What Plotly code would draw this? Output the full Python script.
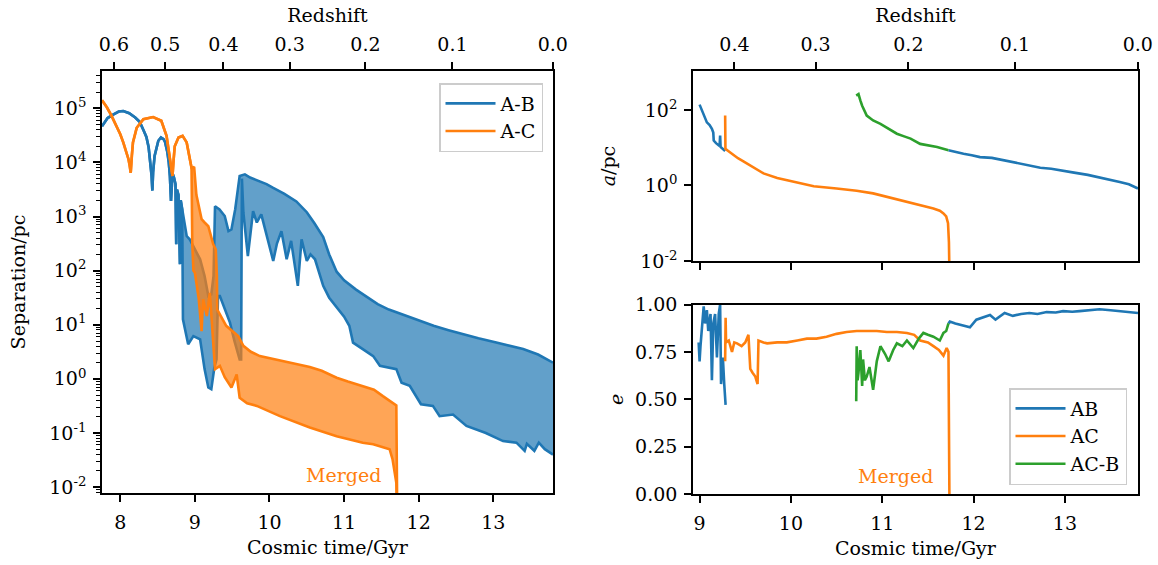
import numpy as np
import plotly.graph_objects as go

# ---------------- data (log10 of separation / a in pc; times in Gyr) ----------------
# A-B separation: single curve before the band starts
ab_early_t = [7.755, 7.83, 7.91, 7.98, 8.04, 8.12, 8.20, 8.26, 8.31, 8.35, 8.38, 8.40, 8.42, 8.43, 8.44, 8.46,
              8.49, 8.51, 8.545, 8.58, 8.60, 8.63, 8.65, 8.665, 8.68, 8.69, 8.70, 8.72, 8.74, 8.75, 8.76,
              8.78, 8.80, 8.81, 8.83]
ab_early_log = [4.67, 4.82, 4.89, 4.94, 4.95, 4.91, 4.83, 4.75, 4.60, 4.47, 4.28, 4.06, 3.75, 3.48, 3.82, 4.12,
                4.33, 4.40, 4.46, 4.43, 4.38, 4.20, 4.00, 3.75, 3.29, 3.60, 3.80, 3.72, 3.60, 2.49, 3.50,
                3.40, 2.12, 3.30, 3.13]
# A-B band: upper envelope
ab_up_t = [8.86, 8.89, 8.93, 9.00, 9.07, 9.13, 9.18, 9.22, 9.25, 9.27, 9.33, 9.40, 9.45, 9.49, 9.54, 9.60,
           9.67, 9.74, 9.85, 9.96, 10.05, 10.20, 10.36, 10.50, 10.60, 10.72, 10.80, 10.90, 11.00, 11.16,
           11.30, 11.45, 11.60, 11.80, 12.00, 12.20, 12.40, 12.60, 12.80, 13.04, 13.20, 13.40, 13.60, 13.80]
ab_up_log = [2.95, 2.64, 2.58, 2.40, 2.21, 1.90, 1.53, 1.56, 1.90, 3.19, 3.13, 3.01, 2.73, 2.76, 3.13, 3.75,
             3.78, 3.72, 3.66, 3.60, 3.53, 3.42, 3.28, 3.08, 2.88, 2.62, 2.30, 1.98, 1.82, 1.65,
             1.52, 1.38, 1.28, 1.18, 1.08, 0.98, 0.90, 0.82, 0.75, 0.67, 0.62, 0.55, 0.45, 0.30]
# A-B band: lower envelope
ab_lo_t = [8.84, 8.91, 8.98, 9.07, 9.13, 9.18, 9.22, 9.26, 9.29, 9.31, 9.335, 9.40, 9.47, 9.53, 9.60, 9.62,
           9.63, 9.65, 9.71, 9.78, 9.83, 9.89, 9.95, 10.05, 10.10, 10.16, 10.23, 10.29, 10.38, 10.43,
           10.50, 10.55, 10.61, 10.66, 10.72, 10.80, 10.90, 11.00, 11.07, 11.12, 11.25, 11.39, 11.48,
           11.60, 11.70, 11.77, 11.88, 12.03, 12.19, 12.28, 12.46, 12.64, 12.90, 13.13, 13.31, 13.42,
           13.45, 13.55, 13.61, 13.69, 13.80]
ab_lo_log = [1.10, 0.64, 0.79, 0.73, 0.18, -0.16, -0.19, 0.20, 0.36, 1.53, 1.53, 1.30, 1.04, 0.70, 0.36, 0.36,
             3.70, 3.07, 2.27, 3.10, 2.89, 3.04, 2.70, 2.18, 2.50, 2.73, 2.21, 2.55, 1.72, 2.58,
             2.18, 2.30, 2.21, 2.00, 1.72, 1.50, 1.32, 1.15, 0.98, 0.67, 0.55, 0.42, 0.24,
             0.20, 0.18, -0.07, -0.13, -0.47, -0.50, -0.69, -0.66, -0.87, -1.00, -1.15, -1.18, -1.33,
             -1.20, -1.33, -1.18, -1.30, -1.40]

# A-C separation
ac_early_t = [7.755, 7.82, 7.88, 7.95, 8.00, 8.04, 8.08, 8.11, 8.125, 8.14, 8.155, 8.17, 8.22, 8.31, 8.44,
              8.55, 8.62, 8.665, 8.69, 8.70, 8.715, 8.73, 8.78, 8.835, 8.89, 8.93, 8.955]
ac_early_log = [5.15, 5.02, 4.87, 4.67, 4.52, 4.37, 4.20, 4.06, 3.95, 3.81, 4.12, 4.37, 4.64, 4.80, 4.84,
                4.77, 4.49, 4.12, 3.90, 3.75, 4.05, 4.30, 4.46, 4.49, 4.37, 4.12, 3.90]
ac_up_t = [8.97, 8.99, 9.02, 9.04, 9.09, 9.13, 9.18, 9.245, 9.28, 9.295, 9.30, 9.42, 9.51, 9.58, 9.65, 9.75,
           9.87, 10.00, 10.18, 10.36, 10.54, 10.70, 10.90, 11.05, 11.25, 11.40, 11.52, 11.65, 11.70, 11.715]
ac_up_log = [3.90, 3.92, 3.40, 3.26, 2.95, 2.89, 2.82, 2.49, 2.39, 1.90, 1.28, 0.98, 0.88, 0.79, 0.61, 0.50,
             0.42, 0.38, 0.33, 0.27, 0.22, 0.15, 0.02, -0.05, -0.13, -0.20, -0.32, -0.44, -0.49, -3.0]
ac_lo_t = [8.965, 8.98, 9.00, 9.05, 9.09, 9.11, 9.16, 9.20, 9.27, 9.335, 9.40, 9.49, 9.56, 9.60, 9.70, 9.83,
           10.14, 10.54, 10.90, 11.25, 11.39, 11.52, 11.61, 11.65, 11.70, 11.715]
ac_lo_log = [2.50, 2.00, 1.96, 1.50, 0.88, 1.47, 1.16, 1.59, 0.18, 0.24, 0.03, -0.16, 0.08, -0.35, -0.45, -0.50,
             -0.69, -0.90, -1.06, -1.18, -1.21, -1.27, -1.30, -1.49, -1.92, -3.0]

# Semi-major axis a/pc (log10)
ab_a_t1 = [9.00, 9.02, 9.045, 9.06, 9.08, 9.11, 9.135, 9.15, 9.155, 9.18, 9.21, 9.22, 9.225, 9.23, 9.25, 9.28]
ab_a_log1 = [2.14, 2.02, 1.89, 1.80, 1.67, 1.60, 1.50, 1.40, 1.19, 1.12, 1.06, 1.08, 1.32, 1.02, 0.98, 0.91]
ab_a_t2 = [11.725, 11.80, 11.89, 11.98, 12.07, 12.20, 12.30, 12.435, 12.55, 12.73, 12.85, 12.98, 13.10, 13.25,
           13.38, 13.50, 13.60, 13.70, 13.80]
ab_a_log2 = [0.93, 0.88, 0.84, 0.80, 0.75, 0.73, 0.68, 0.62, 0.57, 0.47, 0.44, 0.38, 0.34, 0.28,
             0.21, 0.16, 0.09, 0.03, -0.08]
ac_a_t = [9.28, 9.283, 9.31, 9.37, 9.42, 9.48, 9.555, 9.60, 9.635, 9.70, 9.85, 10.0, 10.25, 10.50, 10.72, 10.90,
          11.05, 11.20, 11.34, 11.46, 11.56, 11.63, 11.67, 11.70, 11.72, 11.73, 11.735, 11.74]
ac_a_log = [1.85, 0.97, 0.92, 0.80, 0.72, 0.64, 0.53, 0.45, 0.40, 0.32, 0.20, 0.11, -0.02, -0.08, -0.14, -0.21,
            -0.30, -0.38, -0.47, -0.54, -0.61, -0.67, -0.74, -0.82, -1.00, -1.50, -1.97, -3.0]
acb_a_t = [10.715, 10.74, 10.76, 10.78, 10.83, 10.90, 10.98, 11.07, 11.16, 11.24, 11.31, 11.415, 11.50, 11.60, 11.725]
acb_a_log = [2.38, 2.42, 2.25, 2.11, 1.85, 1.72, 1.63, 1.50, 1.37, 1.30, 1.24, 1.10, 1.06, 1.02, 0.93]

# Eccentricity e
ab_e_t1 = [8.99, 9.00, 9.01, 9.03, 9.045, 9.06, 9.08, 9.095, 9.12, 9.135, 9.15, 9.17, 9.19, 9.21, 9.225,
           9.235, 9.255, 9.27, 9.285]
ab_e1 = [0.80, 0.70, 0.78, 0.88, 0.99, 0.90, 0.97, 0.86, 0.95, 0.60, 0.90, 0.95, 0.72, 0.95, 1.00,
         0.58, 0.72, 0.58, 0.47]
ab_e_t2 = [11.725, 11.74, 11.80, 11.89, 11.96, 12.03, 12.10, 12.18, 12.24, 12.34, 12.43, 12.52, 12.61, 12.70,
           12.80, 12.90, 12.98, 13.08, 13.16, 13.26, 13.38, 13.50, 13.60, 13.70, 13.80]
ab_e2 = [0.90, 0.91, 0.90, 0.89, 0.88, 0.92, 0.93, 0.945, 0.92, 0.955, 0.94, 0.95, 0.955, 0.95,
         0.96, 0.958, 0.965, 0.962, 0.965, 0.97, 0.975, 0.97, 0.965, 0.962, 0.955]
ac_e_t = [9.28, 9.285, 9.29, 9.32, 9.355, 9.38, 9.41, 9.46, 9.50, 9.535, 9.545, 9.555, 9.58, 9.61, 9.635, 9.645,
          9.70, 9.74, 9.85, 9.955, 10.07, 10.175, 10.28, 10.39, 10.50, 10.61, 10.72, 10.83, 10.94, 11.05,
          11.16, 11.27, 11.35, 11.415, 11.50, 11.56, 11.62, 11.67, 11.705, 11.725, 11.73, 11.735]
ac_e = [0.70, 0.93, 0.80, 0.81, 0.75, 0.80, 0.795, 0.78, 0.80, 0.84, 0.75, 0.66, 0.64, 0.62, 0.58, 0.81,
        0.80, 0.795, 0.80, 0.80, 0.81, 0.82, 0.82, 0.83, 0.845, 0.855, 0.86, 0.86, 0.86, 0.855,
        0.855, 0.85, 0.84, 0.81, 0.80, 0.78, 0.76, 0.73, 0.77, 0.75, 0.40, 0.0]
acb_e_t = [10.715, 10.72, 10.73, 10.74, 10.76, 10.78, 10.79, 10.81, 10.83, 10.86, 10.90, 10.94, 10.98, 11.03,
           11.07, 11.12, 11.16, 11.22, 11.27, 11.34, 11.40, 11.45, 11.50, 11.56, 11.63, 11.67, 11.70, 11.725]
acb_e = [0.49, 0.78, 0.60, 0.64, 0.76, 0.57, 0.71, 0.60, 0.62, 0.67, 0.55, 0.70, 0.78, 0.74,
         0.70, 0.76, 0.795, 0.78, 0.81, 0.77, 0.82, 0.85, 0.84, 0.83, 0.81, 0.85, 0.86, 0.90]

# Axis tick labels
time_ticks = [8, 9, 10, 11, 12, 13]
redshift_ticks = [0.6, 0.5, 0.4, 0.3, 0.2, 0.1, 0.0]
sep_tick_exps = [-2, -1, 0, 1, 2, 3, 4, 5]
a_tick_exps = [-2, 0, 2]
e_ticks = [0.0, 0.25, 0.5, 0.75, 1.0]


# ---------------- helpers ----------------
def age(z, H0=67.7, Om=0.31):
    """Cosmic time (Gyr) at redshift z, flat LCDM (used for the top axis scale)."""
    OL = 1.0 - Om
    tH = 977.8 / H0
    return 2 * tH / (3 * np.sqrt(OL)) * np.arcsinh(np.sqrt(OL / Om) * (1 + z) ** -1.5)


def p10(v):
    return [10.0 ** x for x in v]


FONT = "DejaVu Serif"
BLUE, ORANGE, GREEN = "#1f77b4", "#ff7f0e", "#2ca02c"
LW = 2.6
FS = 19

fig = go.Figure()

# ---- left panel ----
fig.add_trace(go.Scatter(x=ab_early_t + ab_lo_t, y=p10(ab_early_log + ab_lo_log), mode="lines",
                         line=dict(color=BLUE, width=LW), name="A-B", legend="legend",
                         xaxis="x", yaxis="y"))
fig.add_trace(go.Scatter(x=ab_early_t + ab_up_t, y=p10(ab_early_log + ab_up_log), mode="lines",
                         line=dict(color=BLUE, width=LW), fill="tonexty",
                         fillcolor="rgba(31,119,180,0.7)", showlegend=False, xaxis="x", yaxis="y"))
fig.add_trace(go.Scatter(x=ac_early_t + ac_lo_t, y=p10(ac_early_log + ac_lo_log), mode="lines",
                         line=dict(color=ORANGE, width=LW), name="A-C", legend="legend",
                         xaxis="x", yaxis="y"))
fig.add_trace(go.Scatter(x=ac_early_t + ac_up_t, y=p10(ac_early_log + ac_up_log), mode="lines",
                         line=dict(color=ORANGE, width=LW), fill="tonexty",
                         fillcolor="rgba(255,127,14,0.7)", showlegend=False, xaxis="x", yaxis="y"))
fig.add_trace(go.Scatter(x=[7.755, 13.8], y=[None, None], xaxis="x2", yaxis="y", showlegend=False,
                         hoverinfo="skip"))

# ---- right top: a/pc ----
fig.add_trace(go.Scatter(x=ab_a_t1 + [None] + ab_a_t2, y=p10(ab_a_log1) + [None] + p10(ab_a_log2),
                         mode="lines", line=dict(color=BLUE, width=LW), showlegend=False,
                         xaxis="x4", yaxis="y4"))
fig.add_trace(go.Scatter(x=ac_a_t, y=p10(ac_a_log), mode="lines", line=dict(color=ORANGE, width=LW),
                         showlegend=False, xaxis="x4", yaxis="y4"))
fig.add_trace(go.Scatter(x=acb_a_t, y=p10(acb_a_log), mode="lines", line=dict(color=GREEN, width=LW),
                         showlegend=False, xaxis="x4", yaxis="y4"))
fig.add_trace(go.Scatter(x=[8.928, 13.8], y=[None, None], xaxis="x5", yaxis="y4", showlegend=False,
                         hoverinfo="skip"))

# ---- right bottom: e ----
fig.add_trace(go.Scatter(x=ab_e_t1 + [None] + ab_e_t2, y=ab_e1 + [None] + ab_e2, mode="lines",
                         line=dict(color=BLUE, width=LW), name="AB", legend="legend2",
                         xaxis="x3", yaxis="y3"))
fig.add_trace(go.Scatter(x=ac_e_t, y=ac_e, mode="lines", line=dict(color=ORANGE, width=LW), name="AC",
                         legend="legend2", xaxis="x3", yaxis="y3"))
fig.add_trace(go.Scatter(x=acb_e_t, y=acb_e, mode="lines", line=dict(color=GREEN, width=LW), name="AC-B",
                         legend="legend2", xaxis="x3", yaxis="y3"))

W, H = 1158, 565
tickfont = dict(family=FONT, size=FS, color="black")
titlefont = dict(family=FONT, size=FS, color="black")
common = dict(showline=True, linecolor="black", linewidth=1.6, ticks="outside", ticklen=7, tickwidth=1.6,
              tickcolor="black", showgrid=False, zeroline=False, tickfont=tickfont, automargin=False)
xcommon = dict(common, ticklabelstandoff=4)
ycommon = dict(common, ticklabelstandoff=3)


def pow_label(e):
    return "10<sup>%d</sup>" % e


left_dom = [102 / W, 553 / W]
right_dom = [693 / W, 1138 / W]

z_left = [z for z in redshift_ticks]
z_right = [z for z in redshift_ticks if age(z) >= 8.928]

fig.update_layout(
    width=W, height=H, template="none", paper_bgcolor="white", plot_bgcolor="white",
    margin=dict(l=0, r=0, t=0, b=0), autosize=False,
    font=dict(family=FONT, size=FS, color="black"),
    xaxis=dict(domain=left_dom, anchor="y", range=[7.755, 13.8], tickvals=time_ticks, mirror=True,
               title=dict(text="Cosmic time/Gyr", font=titlefont, standoff=9), **xcommon),
    xaxis2=dict(overlaying="x", side="top", anchor="y", range=[7.755, 13.8],
                tickvals=[float(age(z)) for z in z_left], ticktext=["%.1f" % z for z in z_left],
                title=dict(text="Redshift", font=titlefont, standoff=5), **xcommon),
    yaxis=dict(domain=[1 - 493 / H, 1 - 71 / H], anchor="x", type="log", range=[-2.11, 5.69],
               tickvals=[10.0 ** e for e in sep_tick_exps], ticktext=[pow_label(e) for e in sep_tick_exps],
               mirror=True, title=dict(text="Separation/pc", font=titlefont, standoff=19),
               minor=dict(ticks="outside", ticklen=4, tickwidth=1.2, tickcolor="black",
                          tickmode="array",
                          tickvals=[k * 10.0 ** e for e in range(-3, 6) for k in range(2, 10)]),
               **ycommon),
    xaxis3=dict(domain=right_dom, anchor="y3", range=[8.928, 13.8], tickvals=time_ticks[1:], mirror=True,
                title=dict(text="Cosmic time/Gyr", font=titlefont, standoff=9), **xcommon),
    yaxis3=dict(domain=[1 - 494 / H, 1 - 304.5 / H], anchor="x3", range=[0, 1], tickvals=e_ticks,
                ticktext=["%.2f" % v for v in e_ticks], mirror=True,
                title=dict(text="<i>e</i>", font=titlefont, standoff=6), **ycommon),
    xaxis4=dict(domain=right_dom, anchor="y4", range=[8.928, 13.8], tickvals=time_ticks[1:],
                showticklabels=False, mirror=True, **xcommon),
    xaxis5=dict(overlaying="x4", side="top", anchor="y4", range=[8.928, 13.8],
                tickvals=[float(age(z)) for z in z_right], ticktext=["%.1f" % z for z in z_right],
                title=dict(text="Redshift", font=titlefont, standoff=5), **xcommon),
    yaxis4=dict(domain=[1 - 261 / H, 1 - 71 / H], anchor="x4", type="log", range=[-2, 3.03],
                tickvals=[10.0 ** e for e in a_tick_exps], ticktext=[pow_label(e) for e in a_tick_exps],
                mirror=True, title=dict(text="<i>a</i>/pc", font=titlefont, standoff=20), **ycommon),
    legend=dict(x=543 / W, y=1 - 83 / H, xanchor="right", yanchor="top", bgcolor="rgba(255,255,255,0.8)",
                bordercolor="#cccccc", borderwidth=1.5, traceorder="normal", itemwidth=50,
                font=dict(family=FONT, size=FS, color="black")),
    legend2=dict(x=1127 / W, y=1 - 485 / H, xanchor="right", yanchor="bottom", traceorder="normal",
                 bgcolor="rgba(255,255,255,0.8)", bordercolor="#cccccc", borderwidth=1.5, itemwidth=50,
                 font=dict(family=FONT, size=FS, color="black")),
    annotations=[
        dict(x=10.99, y=-1.78, xref="x", yref="y", text="Merged", showarrow=False,
             font=dict(family=FONT, size=FS, color=ORANGE)),
        dict(x=11.14, y=0.095, xref="x3", yref="y3", text="Merged", showarrow=False,
             font=dict(family=FONT, size=FS, color=ORANGE)),
    ],
)

fig.write_html("out.html", post_script="document.body.style.margin='0';",
               config={"displayModeBar": False})
